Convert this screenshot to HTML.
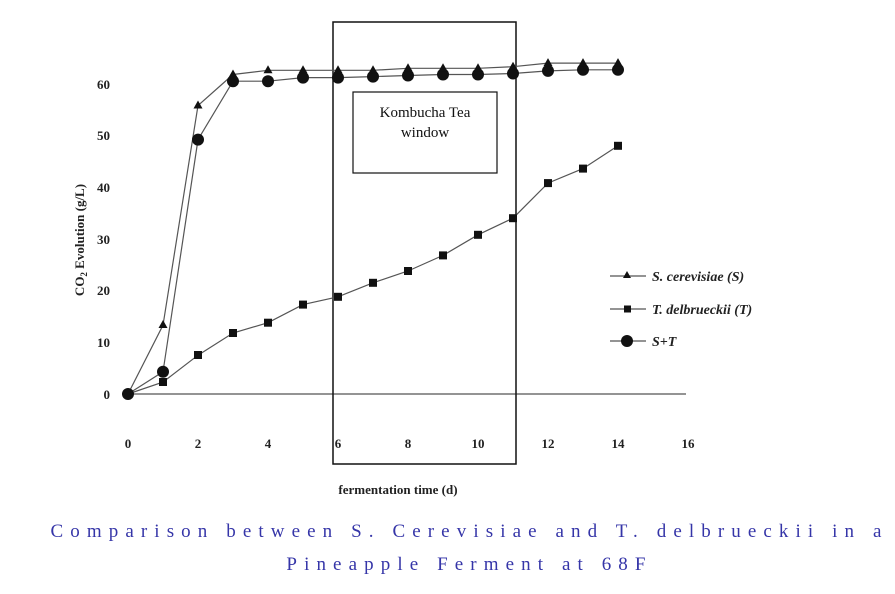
<!DOCTYPE html>
<html><head><style>
body{margin:0;background:#fff;width:895px;height:594px;overflow:hidden;position:relative}
.cap{position:absolute;left:22px;width:895px;text-align:center;font-family:"Liberation Serif",serif;font-size:19px;letter-spacing:7.1px;color:#3535a8;white-space:nowrap}
</style></head><body>
<svg width="895" height="594" style="position:absolute;left:0;top:0" font-family="Liberation Serif,serif">
<g stroke="#555" stroke-width="1.2" fill="none">
<line x1="128" y1="394" x2="686" y2="394"/>
</g>
<g font-size="13" font-weight="bold" fill="#222" text-anchor="end">
<text x="110" y="399">0</text><text x="110" y="347">10</text><text x="110" y="295">20</text>
<text x="110" y="244">30</text><text x="110" y="192">40</text><text x="110" y="140">50</text><text x="110" y="89">60</text>
</g>
<g font-size="13" font-weight="bold" fill="#222" text-anchor="middle">
<text x="128" y="448">0</text><text x="198" y="448">2</text><text x="268" y="448">4</text><text x="338" y="448">6</text>
<text x="408" y="448">8</text><text x="478" y="448">10</text><text x="548" y="448">12</text><text x="618" y="448">14</text><text x="688" y="448">16</text>
<text x="398" y="494">fermentation time (d)</text>
</g>
<text transform="translate(84,240) rotate(-90)" font-size="13" font-weight="bold" fill="#222" text-anchor="middle">CO<tspan font-size="9" dy="3">2</tspan><tspan dy="-3"> Evolution (g/L)</tspan></text>
<rect x="333" y="22" width="183" height="442" fill="none" stroke="#111" stroke-width="1.5"/>
<rect x="353" y="92" width="144" height="81" fill="#fff" stroke="#111" stroke-width="1.2"/>
<text x="425" y="117" font-size="15" text-anchor="middle" fill="#111">Kombucha Tea</text>
<text x="425" y="137" font-size="15" text-anchor="middle" fill="#111">window</text>
<g fill="none" stroke="#555" stroke-width="1.2">
<polyline points="128,394 163,325.2 198,105.5 233,74.5 268,70.3 303,70.3 338,70.3 373,70.3 408,68.3 443,68.3 478,68.3 513,66.7 548,63.1 583,63.1 618,63.1"/>
<polyline points="128,394 163,382.1 198,355.2 233,333 268,322.7 303,304.6 338,296.8 373,282.8 408,271 443,255.4 478,234.8 513,218.2 548,183.1 583,168.6 618,145.8"/>
<polyline points="128,394 163,371.8 198,139.6 233,81.2 268,81.2 303,77.6 338,77.6 373,76.6 408,75.5 443,74.5 478,74.5 513,73.5 548,70.9 583,69.8 618,69.8"/>
</g>
<g fill="#111">
<circle cx="128" cy="394" r="6"/><circle cx="163" cy="371.8" r="6"/><circle cx="198" cy="139.6" r="6"/><circle cx="233" cy="81.2" r="6"/><circle cx="268" cy="81.2" r="6"/><circle cx="303" cy="77.6" r="6"/><circle cx="338" cy="77.6" r="6"/><circle cx="373" cy="76.6" r="6"/><circle cx="408" cy="75.5" r="6"/><circle cx="443" cy="74.5" r="6"/><circle cx="478" cy="74.5" r="6"/><circle cx="513" cy="73.5" r="6"/><circle cx="548" cy="70.9" r="6"/><circle cx="583" cy="69.8" r="6"/><circle cx="618" cy="69.8" r="6"/>
<path d="M163,320 l-4.5,8 h9z"/><path d="M198,100.5 l-4.5,8 h9z"/><path d="M233,69.5 l-4.5,8 h9z"/><path d="M268,65.3 l-4.5,8 h9z"/><path d="M303,65.3 l-4.5,8 h9z"/><path d="M338,65.3 l-4.5,8 h9z"/><path d="M373,65.3 l-4.5,8 h9z"/><path d="M408,63.3 l-4.5,8 h9z"/><path d="M443,63.3 l-4.5,8 h9z"/><path d="M478,63.3 l-4.5,8 h9z"/><path d="M513,61.7 l-4.5,8 h9z"/><path d="M548,58.1 l-4.5,8 h9z"/><path d="M583,58.1 l-4.5,8 h9z"/><path d="M618,58.1 l-4.5,8 h9z"/>
<rect x="159" y="378" width="8" height="8"/><rect x="194" y="351" width="8" height="8"/><rect x="229" y="329" width="8" height="8"/><rect x="264" y="318.7" width="8" height="8"/><rect x="299" y="300.6" width="8" height="8"/><rect x="334" y="292.8" width="8" height="8"/><rect x="369" y="278.8" width="8" height="8"/><rect x="404" y="267" width="8" height="8"/><rect x="439" y="251.4" width="8" height="8"/><rect x="474" y="230.8" width="8" height="8"/><rect x="509" y="214.2" width="8" height="8"/><rect x="544" y="179.1" width="8" height="8"/><rect x="579" y="164.6" width="8" height="8"/><rect x="614" y="141.8" width="8" height="8"/>
</g>
<g stroke="#555" stroke-width="1.2"><line x1="610" y1="276" x2="646" y2="276"/><line x1="610" y1="309" x2="646" y2="309"/><line x1="610" y1="341" x2="646" y2="341"/></g>
<path d="M627,271 l-4,7 h8z" fill="#111"/><rect x="624" y="305.5" width="7" height="7" fill="#111"/><circle cx="627" cy="341" r="6" fill="#111"/>
<g font-size="14" font-weight="bold" font-style="italic" fill="#222">
<text x="652" y="281">S. cerevisiae (S)</text><text x="652" y="314">T. delbrueckii (T)</text><text x="652" y="346">S+T</text>
</g>
</svg>
<div class="cap" style="top:521px">Comparison between S. Cerevisiae and T. delbrueckii in a</div>
<div class="cap" style="top:554px">Pineapple Ferment at 68F</div>
</body></html>
